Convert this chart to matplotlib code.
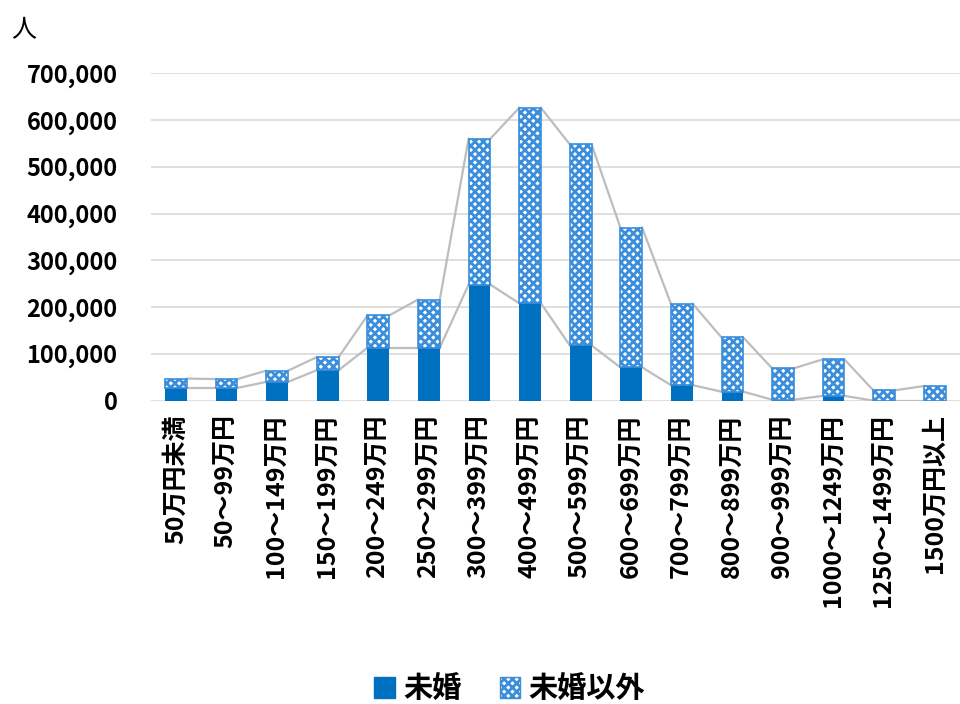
import matplotlib
matplotlib.use("Agg")
import matplotlib.pyplot as plt
from matplotlib.patches import Patch
from matplotlib.ticker import FuncFormatter
import numpy as np

plt.rcParams['font.family'] = ['Noto Sans CJK JP', 'DejaVu Sans']
plt.rcParams['hatch.linewidth'] = 2.0

# Data
categories = ['50万円未満', '50～99万円', '100～149万円', '150～199万円',
              '200～249万円', '250～299万円', '300～399万円', '400～499万円',
              '500～599万円', '600～699万円', '700～799万円', '800～899万円',
              '900～999万円', '1000～1249万円', '1250～1499万円', '1500万円以上']
unmarried = [27000, 27000, 40000, 65000, 113000, 113000, 248000, 208000,
             118000, 71000, 33000, 19000, 2000, 10000, 0, 0]
others = [20000, 19000, 24000, 28000, 69000, 103000, 312000, 418000,
          430000, 299000, 174000, 116000, 67000, 78000, 22000, 31000]

blue = '#0070C0'
hatch_blue = '#3A8EDB'
line_gray = '#BDBDBD'

fig = plt.figure(figsize=(9.6, 7.04), dpi=100)
ax = fig.add_axes([0.157, 0.431, 0.843, 0.465])

x = np.arange(len(categories))
w = 0.43
un = np.array(unmarried)
tot = un + np.array(others)

ax.bar(x, un, width=w, color=blue, zorder=3)
ax.bar(x, others, width=w, bottom=un, facecolor='white', edgecolor=hatch_blue,
       hatch='xxxx', linewidth=0, zorder=3)
ax.bar(x, others, width=w, bottom=un, fill=False, edgecolor=hatch_blue,
       linewidth=1.2, zorder=4)

# series lines joining bar edges (Excel style)
for top in (un, tot):
    for i in range(len(x) - 1):
        ax.plot([x[i] + w / 2, x[i + 1] - w / 2], [top[i], top[i + 1]],
                color=line_gray, lw=1.6, zorder=2)

ax.set_xlim(-0.5, len(x) - 0.5)
ax.set_ylim(0, 700000)
ax.set_yticks(np.arange(0, 700001, 100000))
ax.yaxis.set_major_formatter(FuncFormatter(lambda v, p: f'{int(v):,}'))
ax.grid(axis='y', color='#D9D9D9', lw=1.2, zorder=0)
for s in ax.spines.values():
    s.set_visible(False)

ax.set_xticks(x)
ax.set_xticklabels(categories, rotation=90, fontsize=18, fontweight='bold')
ax.tick_params(axis='x', length=0, pad=10)
ax.tick_params(axis='y', length=0, pad=24, labelsize=17)
for t in ax.get_yticklabels():
    t.set_fontweight('bold')

fig.text(0.012, 0.957, '人', fontsize=18, va='center', ha='left')

handles = [Patch(facecolor=blue, edgecolor=blue),
           Patch(facecolor='white', edgecolor=hatch_blue, hatch='xxxx')]
fig.legend(handles, ['未婚', '未婚以外'], loc='center', bbox_to_anchor=(0.531, 0.022),
           ncol=2, frameon=False, prop={'size': 21, 'weight': 'bold'},
           handlelength=0.7, handleheight=0.7, handletextpad=0.3, columnspacing=1.3)

fig.savefig('out.png', dpi=100)
